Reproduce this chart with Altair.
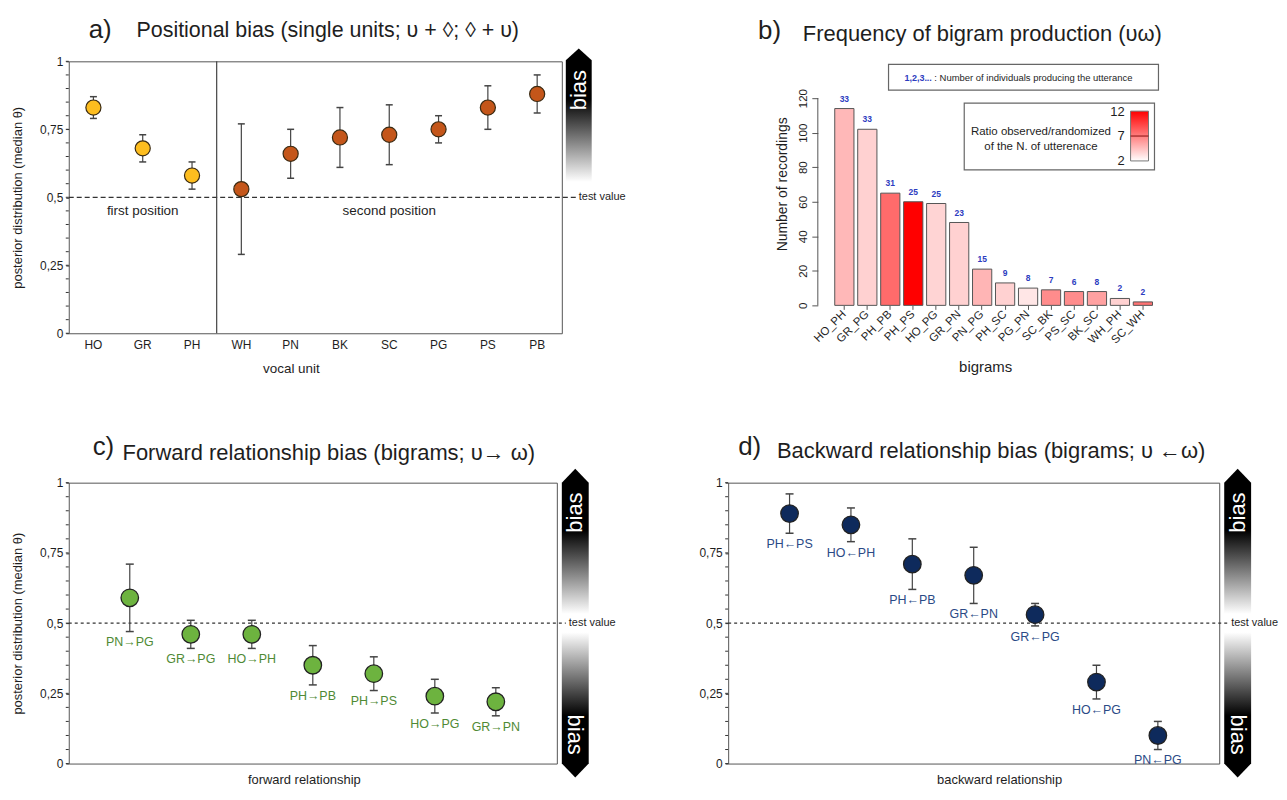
import altair as alt
import pandas as pd

FONT = "Liberation Sans"
TXT = "#1e1e1e"

# ---------------- data ----------------
# a) positional bias
units = ["HO", "GR", "PH", "WH", "PN", "BK", "SC", "PG", "PS", "PB"]
unit_pos = ["first", "first", "first", "second", "second", "second", "second", "second", "second", "second"]
unit_med = [0.83, 0.68, 0.58, 0.53, 0.66, 0.72, 0.73, 0.75, 0.83, 0.88]
unit_lo = [0.79, 0.63, 0.53, 0.29, 0.57, 0.61, 0.62, 0.70, 0.75, 0.81]
unit_hi = [0.87, 0.73, 0.63, 0.77, 0.75, 0.83, 0.84, 0.80, 0.91, 0.95]

# b) bigram frequency
bigrams = ["HO_PH", "GR_PG", "PH_PB", "PH_PS", "HO_PG", "GR_PN", "PN_PG",
           "PH_SC", "PG_PN", "SC_BK", "PS_SC", "BK_SC", "WH_PH", "SC_WH"]
recordings = [114, 102, 65, 60, 59, 48, 21, 13, 10, 9, 8, 8, 4, 2]
individuals = [33, 33, 31, 25, 25, 23, 15, 9, 8, 7, 6, 8, 2, 2]
ratio = [4.8, 3.8, 7.8, 12, 3.7, 3.8, 4.9, 3.8, 3.0, 6.5, 6.5, 5.7, 3.8, 7.5]

# c) forward relationship
fwd = ["PN→PG", "GR→PG", "HO→PH", "PH→PB", "PH→PS", "HO→PG", "GR→PN"]
fwd_med = [0.59, 0.46, 0.46, 0.35, 0.32, 0.24, 0.22]
fwd_lo = [0.47, 0.41, 0.41, 0.28, 0.26, 0.18, 0.17]
fwd_hi = [0.71, 0.51, 0.51, 0.42, 0.38, 0.30, 0.27]

# d) backward relationship
bwd = ["PH←PS", "HO←PH", "PH←PB", "GR←PN", "GR←PG", "HO←PG", "PN←PG"]
bwd_med = [0.89, 0.85, 0.71, 0.67, 0.53, 0.29, 0.10]
bwd_lo = [0.82, 0.79, 0.62, 0.57, 0.49, 0.23, 0.05]
bwd_hi = [0.96, 0.91, 0.80, 0.77, 0.57, 0.35, 0.15]

y_major = [0, 0.25, 0.5, 0.75, 1]
y_minor = [round(i * 0.05, 2) for i in range(21)]
b_ticks = [0, 20, 40, 60, 80, 100, 120]

# ---------------- helpers ----------------
one = pd.DataFrame({"k": [0]})
minor_df = pd.DataFrame({"v": y_minor})
LABEL_EXPR = ("datum.value == 0.25 ? '0,25' : datum.value == 0.5 ? '0,5' : "
              "datum.value == 0.75 ? '0,75' : datum.label")
ys01 = alt.Scale(domain=[0, 1], nice=False, zero=False)


def grad(stops, x1=0, y1=0, x2=0, y2=1):
    return alt.LinearGradient(gradient="linear", x1=x1, y1=y1, x2=x2, y2=y2,
                              stops=[alt.GradientStop(offset=o, color=c) for o, c in stops])


def label(txt, x, y, size, color=TXT, align="left", angle=0, baseline="middle", weight="normal"):
    return alt.Chart(one).mark_text(text=txt, fontSize=size, color=color, align=align,
                                    baseline=baseline, angle=angle, fontWeight=weight,
                                    font=FONT).encode(x=alt.value(x), y=alt.value(y))


def arrow_shape(xc, yc, r, path, stops):
    return alt.Chart(one).mark_point(shape=path, filled=True, size=(2 * r) ** 2,
                                     fill=grad(stops), opacity=1, strokeWidth=0).encode(
        x=alt.value(xc), y=alt.value(yc))


def post_axis(title):
    return alt.Axis(values=y_major, format="~g", labelExpr=LABEL_EXPR, title=title, grid=False,
                    domain=False, tickSize=3, tickColor="#333", labelFontSize=12, labelPadding=3,
                    titleFontSize=13, titlePadding=15, labelOverlap=False, labelFlush=False)


def minor_ticks(ay):
    return alt.Chart(minor_df).mark_rule(color="#333", strokeWidth=1).encode(
        y=alt.Y("v:Q", scale=ys01, axis=ay), x=alt.value(0), x2=alt.value(-3))


def test_value(xpix, line_end, dash):
    line = alt.Chart(one).mark_rule(color="#333", strokeDash=dash, strokeWidth=1.2).encode(
        y=alt.datum(0.5), x=alt.value(0), x2=alt.value(line_end))
    txt = alt.Chart(one).mark_text(text="test value", fontSize=11, color=TXT, align="left",
                                   baseline="middle", font=FONT).encode(
        x=alt.value(xpix), y=alt.datum(0.5))
    return line, txt


PATH_SINGLE = "M0,-5.15L1,-4.23L1,5.15L-1,5.15L-1,-4.23Z"
PATH_DOUBLE = "M0,-11.48L1,-10.44L1,10.44L0,11.48L-1,10.44L-1,-10.44Z"
STOPS_SINGLE = [(0, "#000000"), (0.38, "#000000"), (1, "#ffffff")]
STOPS_DOUBLE = [(0, "#000000"), (0.2, "#000000"), (0.47, "#ffffff"), (0.53, "#ffffff"),
                (0.8, "#000000"), (1, "#000000")]

# ---------------- panel a ----------------
W_A, H_A = 495, 273
dfa = pd.DataFrame({"unit": units, "pos": unit_pos, "med": unit_med, "lo": unit_lo, "hi": unit_hi})
xs_a = alt.Scale(type="band", domain=units, paddingInner=0, paddingOuter=0)
ax_a = alt.Axis(title="vocal unit", ticks=False, domain=False, labelAngle=0,
                labelPadding=6, labelFontSize=12, titleFontSize=13.5,
                titlePadding=11, titleX=223)
ay_a = post_axis("posterior distribution (median θ)")


def XA(field="unit:N", **kw):
    return alt.X(field, scale=xs_a, axis=ax_a, **kw)


def YA(field):
    return alt.Y(field, scale=ys01, axis=ay_a)


a_anchor = alt.Chart(one).mark_point(opacity=0, size=1, strokeWidth=0).encode(
    x=alt.value(-60), y=alt.value(-51))
a_arrow = arrow_shape(W_A + 17, 54, 13, PATH_SINGLE, STOPS_SINGLE)
a_bias = label("bias", W_A + 17, 29, 22, color="white", align="center", angle=270)
a_line, a_tv = test_value(W_A + 17, W_A + 15, [5, 3])
a_minor = minor_ticks(ay_a)
a_div = alt.Chart(pd.DataFrame({"unit": ["WH"]})).mark_rule(color="#444", strokeWidth=1.2).encode(
    x=XA(bandPosition=0))
a_err = alt.Chart(dfa).mark_rule(color="#444", strokeWidth=1.2).encode(
    x=XA(), y=YA("lo:Q"), y2="hi:Q")
a_cap_hi = alt.Chart(dfa).mark_tick(color="#444", size=7, thickness=1.5, opacity=1).encode(
    x=XA(), y=YA("hi:Q"))
a_cap_lo = alt.Chart(dfa).mark_tick(color="#444", size=7, thickness=1.5, opacity=1).encode(
    x=XA(), y=YA("lo:Q"))
a_pts = alt.Chart(dfa).mark_circle(size=230, opacity=1, stroke="#3a2a12", strokeWidth=1.2).encode(
    x=XA(), y=YA("med:Q"),
    color=alt.Color("pos:N", scale=alt.Scale(domain=["first", "second"],
                                             range=["#fdbd1f", "#c4561a"]), legend=None))
a_postxt = alt.Chart(pd.DataFrame({"unit": ["GR", "SC"], "t": ["first position", "second position"]})
                     ).mark_text(fontSize=13.5, color=TXT, font=FONT).encode(
    x=XA(), y=alt.datum(0.45), text="t:N")
a_t1 = label("a)", 20, -31, 26)
a_t2 = label("Positional bias (single units; υ + ◊; ◊ + υ)", 68, -30, 21.5)

pa = alt.layer(a_anchor, a_arrow, a_bias, a_line, a_tv, a_minor, a_div, a_err, a_cap_hi, a_cap_lo,
               a_pts, a_postxt, a_t1, a_t2).properties(width=W_A, height=H_A)

# ---------------- panel b ----------------
W_B, H_B = 438, 273
dfb = pd.DataFrame({"bigram": bigrams, "rec": recordings, "ind": individuals, "ratio": ratio})
xs_b = alt.Scale(type="band", domain=bigrams, range=[107, 426], paddingInner=0.163, paddingOuter=0)
ys_b = alt.Scale(domain=[-16.15, 141.35], nice=False, zero=False)
ax_b = alt.Axis(title="bigrams", labelAngle=315, labelAlign="right", labelBaseline="middle",
                labelPadding=3, tickSize=4, tickColor="#555", domain=False, offset=-28,
                titleX=258, titlePadding=14, titleFontSize=15, labelFontSize=11.5)
ay_b = alt.Axis(values=b_ticks, labelAngle=270, labelAlign="center", labelBaseline="bottom",
                labelPadding=3, tickSize=6, tickColor="#555", domain=False, grid=False,
                offset=-90, title="Number of recordings", titleFontSize=14, titleX=-35,
                titleY=123, titleAngle=270, titleBaseline="middle", titleAlign="center",
                labelFontSize=11.5, labelOverlap=False)

b_bars = alt.Chart(dfb).mark_bar(stroke="#555", strokeWidth=1, opacity=1).encode(
    x=alt.X("bigram:N", scale=xs_b, axis=ax_b),
    y=alt.Y("rec:Q", scale=ys_b, axis=ay_b),
    y2=alt.datum(0),
    color=alt.Color("ratio:Q", scale=alt.Scale(domain=[2, 12], range=["#ffffff", "#ff0000"],
                                               interpolate="rgb"), legend=None))
b_cnt = alt.Chart(dfb).mark_text(dy=-5, baseline="bottom", fontSize=8.5, fontWeight="bold",
                                 color="#2c3cc0", font=FONT).encode(
    x=alt.X("bigram:N", scale=xs_b, axis=ax_b), y=alt.Y("rec:Q", scale=ys_b, axis=ay_b),
    text="ind:Q")
b_axisline = alt.Chart(one).mark_rule(color="#555", strokeWidth=1).encode(
    x=alt.value(90), y=alt.datum(0), y2=alt.datum(120))
b_box1 = alt.Chart(one).mark_rect(fill="white", stroke="#666", strokeWidth=1.2).encode(
    x=alt.value(161), x2=alt.value(432), y=alt.value(3), y2=alt.value(29))
b_k1 = label("1,2,3...", 177, 17, 9, color="#2c3cc0", weight="bold")
b_k2 = label(": Number of individuals producing the utterance", 207, 17, 9.5)
b_box2 = alt.Chart(one).mark_rect(fill="white", stroke="#666", strokeWidth=1.2).encode(
    x=alt.value(237), x2=alt.value(428), y=alt.value(42), y2=alt.value(109))
b_grad = alt.Chart(one).mark_rect(fill=grad([(0, "#ff0000"), (1, "#ffffff")]), stroke="#777",
                                  strokeWidth=1).encode(
    x=alt.value(404), x2=alt.value(422), y=alt.value(50), y2=alt.value(100))
b_g7 = alt.Chart(one).mark_rule(color="#9a2020", strokeWidth=1.2).encode(
    x=alt.value(404), x2=alt.value(422), y=alt.value(75))
b_l12 = label("12", 398, 51, 13, align="right")
b_l7 = label("7", 398, 75, 13, align="right")
b_l2 = label("2", 398, 100, 13, align="right")
b_lt1 = label("Ratio observed/randomized", 314, 71, 11.5, align="center")
b_lt2 = label("of the N. of utterenace", 314, 86, 11.5, align="center")
b_t1 = label("b)", 30, -30, 26)
b_t2 = label("Frequency of bigram production (υω)", 75, -27, 22)

pb = alt.layer(b_bars, b_cnt, b_axisline, b_box1, b_k1, b_k2, b_box2, b_grad, b_g7,
               b_l12, b_l7, b_l2, b_lt1, b_lt2, b_t1, b_t2).properties(
    width=W_B, height=H_B, view=alt.ViewBackground(stroke="transparent"))


# ---------------- panels c and d ----------------
def rel_panel(names, med, lo, hi, width, height, xtitle, title_x, ytitle, fill, lab_color,
              head, head_x, title_txt, t2x, t2y):
    df = pd.DataFrame({"rel": names, "med": med, "lo": lo, "hi": hi})
    xs = alt.Scale(type="point", domain=names, padding=1)
    ax = alt.Axis(labels=False, ticks=False, domain=False, title=xtitle,
                  titlePadding=10, titleFontSize=13, titleX=title_x)
    ay = post_axis(ytitle)

    def X():
        return alt.X("rel:N", scale=xs, axis=ax)

    def Y(f):
        return alt.Y(f, scale=ys01, axis=ay)

    arrow = arrow_shape(width + 18.5, height / 2, 13.5, PATH_DOUBLE, STOPS_DOUBLE)
    bias_top = label("bias", width + 18.5, 30, 22, color="white", align="center", angle=270)
    bias_bot = label("bias", width + 18.5, height - 29, 22, color="white", align="center", angle=90)
    line, tv = test_value(width + 12, width + 9, [3, 3])
    minor = minor_ticks(ay)
    err = alt.Chart(df).mark_rule(color="#444", strokeWidth=1.2).encode(
        x=X(), y=Y("lo:Q"), y2="hi:Q")
    cap_hi = alt.Chart(df).mark_tick(color="#444", size=8, thickness=1.5, opacity=1).encode(
        x=X(), y=Y("hi:Q"))
    cap_lo = alt.Chart(df).mark_tick(color="#444", size=8, thickness=1.5, opacity=1).encode(
        x=X(), y=Y("lo:Q"))
    pts = alt.Chart(df).mark_circle(size=310, opacity=1, color=fill, stroke="#222",
                                    strokeWidth=1.3).encode(x=X(), y=Y("med:Q"))
    labs = alt.Chart(df).mark_text(baseline="top", dy=5, fontSize=12.5, color=lab_color,
                                   font=FONT).encode(x=X(), y=Y("lo:Q"), text="rel:N")
    t1 = label(head, head_x, -36, 26)
    t2 = label(title_txt, t2x, t2y, 22)
    return alt.layer(arrow, bias_top, bias_bot, line, tv, minor, err, cap_hi, cap_lo, pts, labs,
                     t1, t2).properties(width=width, height=height)


pc = rel_panel(fwd, fwd_med, fwd_lo, fwd_hi, 490, 282, "forward relationship", 236,
               "posterior distribution (median θ)", "#6db33f", "#4f8a35",
               "c)", 24, "Forward relationship bias (bigrams; υ→ ω)", 54, -30)
pd_ = rel_panel(bwd, bwd_med, bwd_lo, bwd_hi, 493, 282, "backward relationship", 272,
                None, "#0e2a5c", "#2b4a86",
                "d)", 10, "Backward relationship bias (bigrams; υ ←ω)", 49, -32)

chart = alt.concat(pa, pb, pc, pd_, columns=2, spacing={"row": 150, "column": 167},
                   bounds="flush", align="none").properties(padding=0).configure(
    font=FONT).configure_view(stroke="#555", strokeWidth=1).configure_axis(
    labelFont=FONT, titleFont=FONT, titleFontWeight="normal", labelColor=TXT, titleColor=TXT)

chart.save("out.html", embed_options={"renderer": "svg", "actions": False})
